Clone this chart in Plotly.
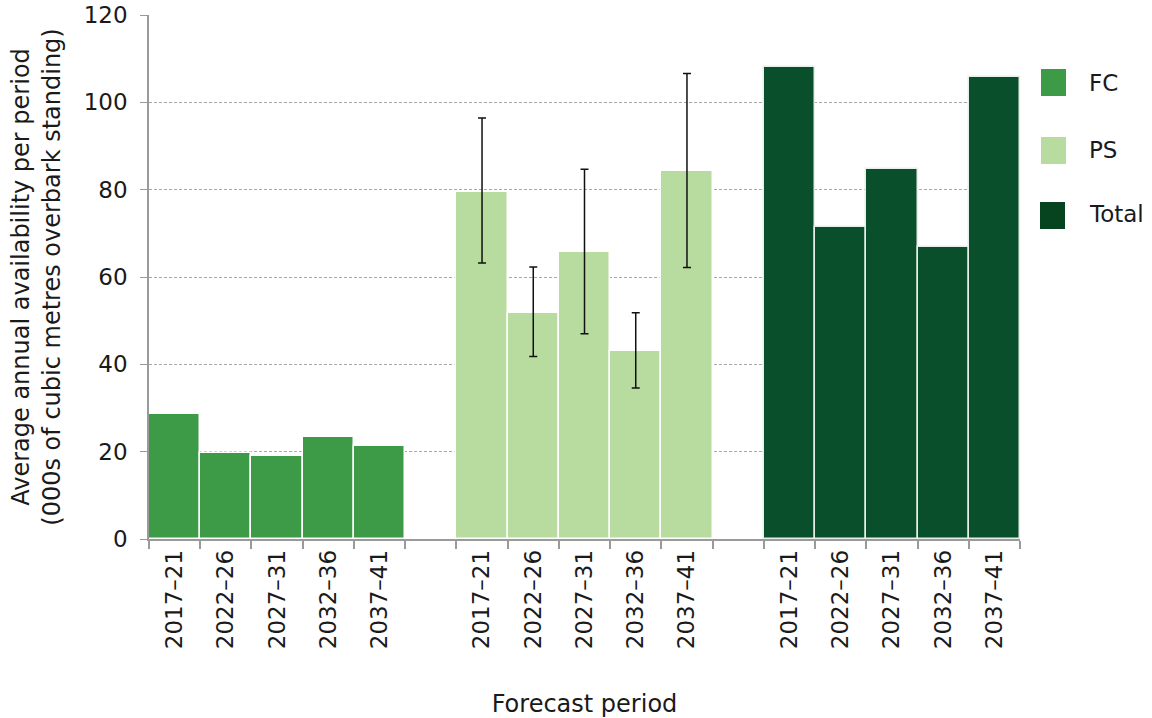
import plotly.graph_objects as go

periods = ["2017–21", "2022–26", "2027–31", "2032–36", "2037–41"]
fc_values = [28.7, 19.7, 18.9, 23.4, 21.2]
ps_values = [79.5, 51.8, 65.7, 43.0, 84.2]
ps_upper = [96.4, 62.3, 84.7, 51.8, 106.6]
ps_lower = [63.2, 41.8, 47.0, 34.6, 62.2]
total_values = [108.2, 71.5, 84.8, 66.9, 105.7]
series_names = ["FC", "PS", "Total"]
y_ticks = [0, 20, 40, 60, 80, 100, 120]

colors = {"FC": "#3d9a46", "PS": "#b8dba0", "Total": "#0a4f2b"}
legend_colors = {"FC": "#3d9a46", "PS": "#b8dba0", "Total": "#06441f"}
FONT = "DejaVu Sans"
TXT = "#1a1a1a"
TICK_SIZE = 23
TITLE_SIZE = 24

fc_x = ["FC " + p for p in periods]
ps_x = ["PS " + p for p in periods]
tot_x = ["Total " + p for p in periods]
gaps = ["gap1", "gap2"]
cat_order = fc_x + [gaps[0]] + ps_x + [gaps[1]] + tot_x
tick_text = periods + [""] + periods + [""] + periods

fig = go.Figure()
line = dict(color="white", width=1.5)
fig.add_trace(go.Bar(x=fc_x, y=fc_values, marker=dict(color=colors["FC"], line=line),
                     showlegend=False))
fig.add_trace(go.Bar(
    x=ps_x, y=ps_values, marker=dict(color=colors["PS"], line=line), showlegend=False,
    error_y=dict(type="data", symmetric=False,
                 array=[u - v for u, v in zip(ps_upper, ps_values)],
                 arrayminus=[v - l for v, l in zip(ps_values, ps_lower)],
                 color="#111111", thickness=1.5, width=4)))
fig.add_trace(go.Bar(x=tot_x, y=total_values,
                     marker=dict(color=colors["Total"], line=dict(color="#e8efe9", width=1.5)),
                     showlegend=False))
fig.add_trace(go.Scatter(x=gaps, y=[None, None], mode="markers", showlegend=False,
                         hoverinfo="skip"))

L, R, T, B = 149, 132, 15, 179
W, H = 1152, 718
pw, ph = W - L - R, H - T - B

def px(xp):
    return (xp - L) / pw

def py(yp):
    return (H - B - yp) / ph

shapes = []
annotations = []
leg_pos = [(1041, 69, 96, 83), (1041, 137, 164, 150), (1040, 202, 229, 214)]
for name, (lx, ly0, ly1, ty) in zip(series_names, leg_pos):
    shapes.append(dict(type="rect", xref="paper", yref="paper",
                       x0=px(lx), x1=px(lx + 25), y0=py(ly1), y1=py(ly0),
                       fillcolor=legend_colors[name], line=dict(width=0)))
    annotations.append(dict(xref="paper", yref="paper", x=px(1087), y=py(ty),
                            xanchor="left", yanchor="middle", text=name, showarrow=False,
                            font=dict(family=FONT, size=TICK_SIZE, color=TXT)))

fig.update_layout(
    width=W, height=H,
    margin=dict(l=L, r=R, t=T, b=B),
    paper_bgcolor="white", plot_bgcolor="white",
    bargap=0,
    font=dict(family=FONT, size=TICK_SIZE, color=TXT),
    shapes=shapes, annotations=annotations,
    xaxis=dict(
        type="category", categoryorder="array", categoryarray=cat_order,
        tickmode="array", tickvals=cat_order, ticktext=tick_text,
        tickangle=-90, tickson="boundaries", ticks="outside", ticklen=8,
        tickcolor="#9a9a9a", tickwidth=1.5,
        showline=True, linecolor="#9a9a9a", linewidth=1.5,
        showgrid=False, range=[-0.5, 16.5], automargin=False,
        tickfont=dict(family=FONT, size=TICK_SIZE, color=TXT),
        title=dict(text="Forecast period", font=dict(family=FONT, size=TITLE_SIZE, color=TXT),
                   standoff=48),
    ),
    yaxis=dict(
        range=[0, 120], tickvals=y_ticks, ticks="outside", ticklen=7,
        tickcolor="#9a9a9a", tickwidth=1, ticklabelstandoff=8,
        showline=True, linecolor="#9a9a9a", linewidth=1.5,
        showgrid=True, gridcolor="#a8a8a8", griddash="3px,2px", gridwidth=1,
        zeroline=False, automargin=False,
        tickfont=dict(family=FONT, size=TICK_SIZE, color=TXT),
        title=dict(text="Average annual availability per period<br>(000s of cubic metres overbark standing)",
                   font=dict(family=FONT, size=TITLE_SIZE, color=TXT), standoff=16),
    ),
)

fig.write_html("out.html")
